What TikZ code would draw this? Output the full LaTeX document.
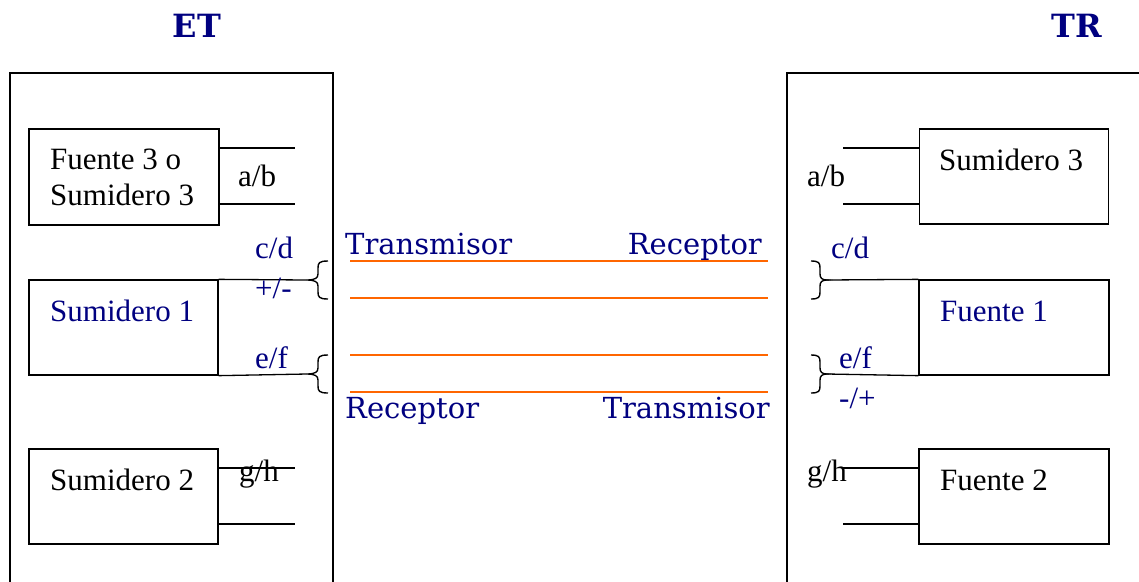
\documentclass[tikz,border=0pt]{standalone}
\usepackage{fontspec}
\setmainfont{Liberation Serif}
\newfontfamily\linefont{DejaVu Serif}
\newfontfamily\headfont{DejaVu Serif}
\definecolor{navy}{RGB}{0,0,128}
\definecolor{wire}{RGB}{255,102,0}
\begin{document}
\begin{tikzpicture}[x=1pt,y=-1pt,
  frame/.style={draw=black,line width=1.3pt},
  unit/.style={draw=black,line width=1.3pt,inner sep=0pt,minimum width=#1},
  unit/.default=190pt,
  lbl/.style={inner sep=0pt,anchor=base west,font=\fontsize{31}{36}\selectfont},
  blbl/.style={lbl,text=navy},
  wlbl/.style={inner sep=0pt,anchor=base west,text=navy,font=\linefont\fontsize{29}{34}\selectfont},
  head/.style={inner sep=0pt,text=navy,font=\headfont\bfseries\fontsize{32}{36}\selectfont},
  lead/.style={draw=black,line width=1.3pt},
  pair/.style={draw=wire,line width=1.6pt},
  lbrace/.pic={\draw[line width=1.4pt] (21,-19) .. controls (12,-19) and (11,-17) .. (11,-12) -- (11,-6)
      .. controls (11,-2) and (8,0) .. (0,0) .. controls (8,0) and (11,2) .. (11,6) -- (11,12)
      .. controls (11,17) and (12,19) .. (21,19);},
  rbrace/.pic={\begin{scope}[xscale=-1]\draw[line width=1.4pt] (16,-19) .. controls (8,-19) and (7,-17) .. (7,-12) -- (7,-6)
      .. controls (7,-2) and (5,0) .. (0,0) .. controls (5,0) and (7,2) .. (7,6) -- (7,12)
      .. controls (7,17) and (8,19) .. (16,19);\end{scope}}
]
\useasboundingbox (0,0) rectangle (1139,581);

% headings
\node[head] (et) at (197,26) {ET};
\node[head] (tr) at (1077,26) {TR};

% equipment frames (open at the bottom)
\draw[frame] (10,585) -- (10,73) -- (333,73) -- (333,585);
\draw[frame] (787,585) -- (787,73) -- (1145,73);

% left units
\node[unit=190pt,minimum height=96pt] (s3l) at (124,177) {};
\node[unit=189pt,minimum height=95pt] (s1) at (123.5,327.5) {};
\node[unit=189pt,minimum height=95pt] (s2) at (123.5,496.5) {};
\node[lbl,align=left] (s3lt) at (50,205) {Fuente 3 o\\[0pt]Sumidero 3};
\node[blbl] (s1t) at (50,321) {Sumidero 1};
\node[lbl] (s2t) at (50,490) {Sumidero 2};

% right units
\node[unit=189pt,minimum height=95pt] (s3r) at (1014,176.5) {};
\node[unit=190pt,minimum height=95pt] (f1) at (1014,327.5) {};
\node[unit=190pt,minimum height=95pt] (f2) at (1014,496.5) {};
\node[lbl] (s3rt) at (939,170) {Sumidero 3};
\node[blbl] (f1t) at (940,321) {Fuente 1};
\node[lbl] (f2t) at (940,490) {Fuente 2};

% lead ends
\coordinate (la1) at (295,148);
\coordinate (la2) at (295,204);
\coordinate (lc) at (307,280);
\coordinate (le) at (307,374);
\coordinate (lg1) at (295,468);
\coordinate (lg2) at (295,524);
\coordinate (ra1) at (843,148);
\coordinate (ra2) at (843,204);
\coordinate (rc) at (827,280);
\coordinate (re) at (827,374);
\coordinate (rg1) at (843,468);
\coordinate (rg2) at (843,524);

% leads
\draw[lead] (s3l.east |- la1) -- (la1);
\draw[lead] (s3l.east |- la2) -- (la2);
\draw[lead] (s1.north east) -- (lc);
\draw[lead] (s1.south east) -- (le);
\draw[lead] (s2.east |- lg1) -- (lg1);
\draw[lead] (s2.east |- lg2) -- (lg2);
\draw[lead] (s3r.west |- ra1) -- (ra1);
\draw[lead] (s3r.west |- ra2) -- (ra2);
\draw[lead] (f1.north west) -- (rc);
\draw[lead] (f1.south west) -- (re);
\draw[lead] (f2.west |- rg1) -- (rg1);
\draw[lead] (f2.west |- rg2) -- (rg2);

% braces
\pic at (lc) {lbrace};
\pic at (le) {lbrace};
\pic at (rc) {rbrace};
\pic at (re) {rbrace};

% lead labels
\node[lbl] (abl) at (238,186) {a/b};
\node[blbl] (cdl) at (255,258) {c/d};
\node[blbl] (pml) at (255,298) {+/-};
\node[blbl] (efl) at (255,368) {e/f};
\node[lbl] (ghl) at (239,481) {g/h};
\node[lbl] (abr) at (807,186) {a/b};
\node[blbl] (cdr) at (831,258) {c/d};
\node[blbl] (efr) at (839,368) {e/f};
\node[blbl] (mpr) at (839,408) {-/+};
\node[lbl] (ghr) at (807,481) {g/h};

% line pairs
\coordinate (w1a) at (350,261); \coordinate (w1b) at (768,261);
\coordinate (w2a) at (350,298); \coordinate (w2b) at (768,298);
\coordinate (w3a) at (350,355); \coordinate (w3b) at (768,355);
\coordinate (w4a) at (350,392); \coordinate (w4b) at (768,392);
\draw[pair] (w1a) -- (w1b);
\draw[pair] (w2a) -- (w2b);
\draw[pair] (w3a) -- (w3b);
\draw[pair] (w4a) -- (w4b);

\node[wlbl] (tx1) at (345,254) {Transmisor};
\node[wlbl,anchor=base east] (rx1) at (762,254) {Receptor};
\node[wlbl] (rx2) at (345,418) {Receptor};
\node[wlbl,anchor=base east] (tx2) at (770,418) {Transmisor};
\end{tikzpicture}
\end{document}
